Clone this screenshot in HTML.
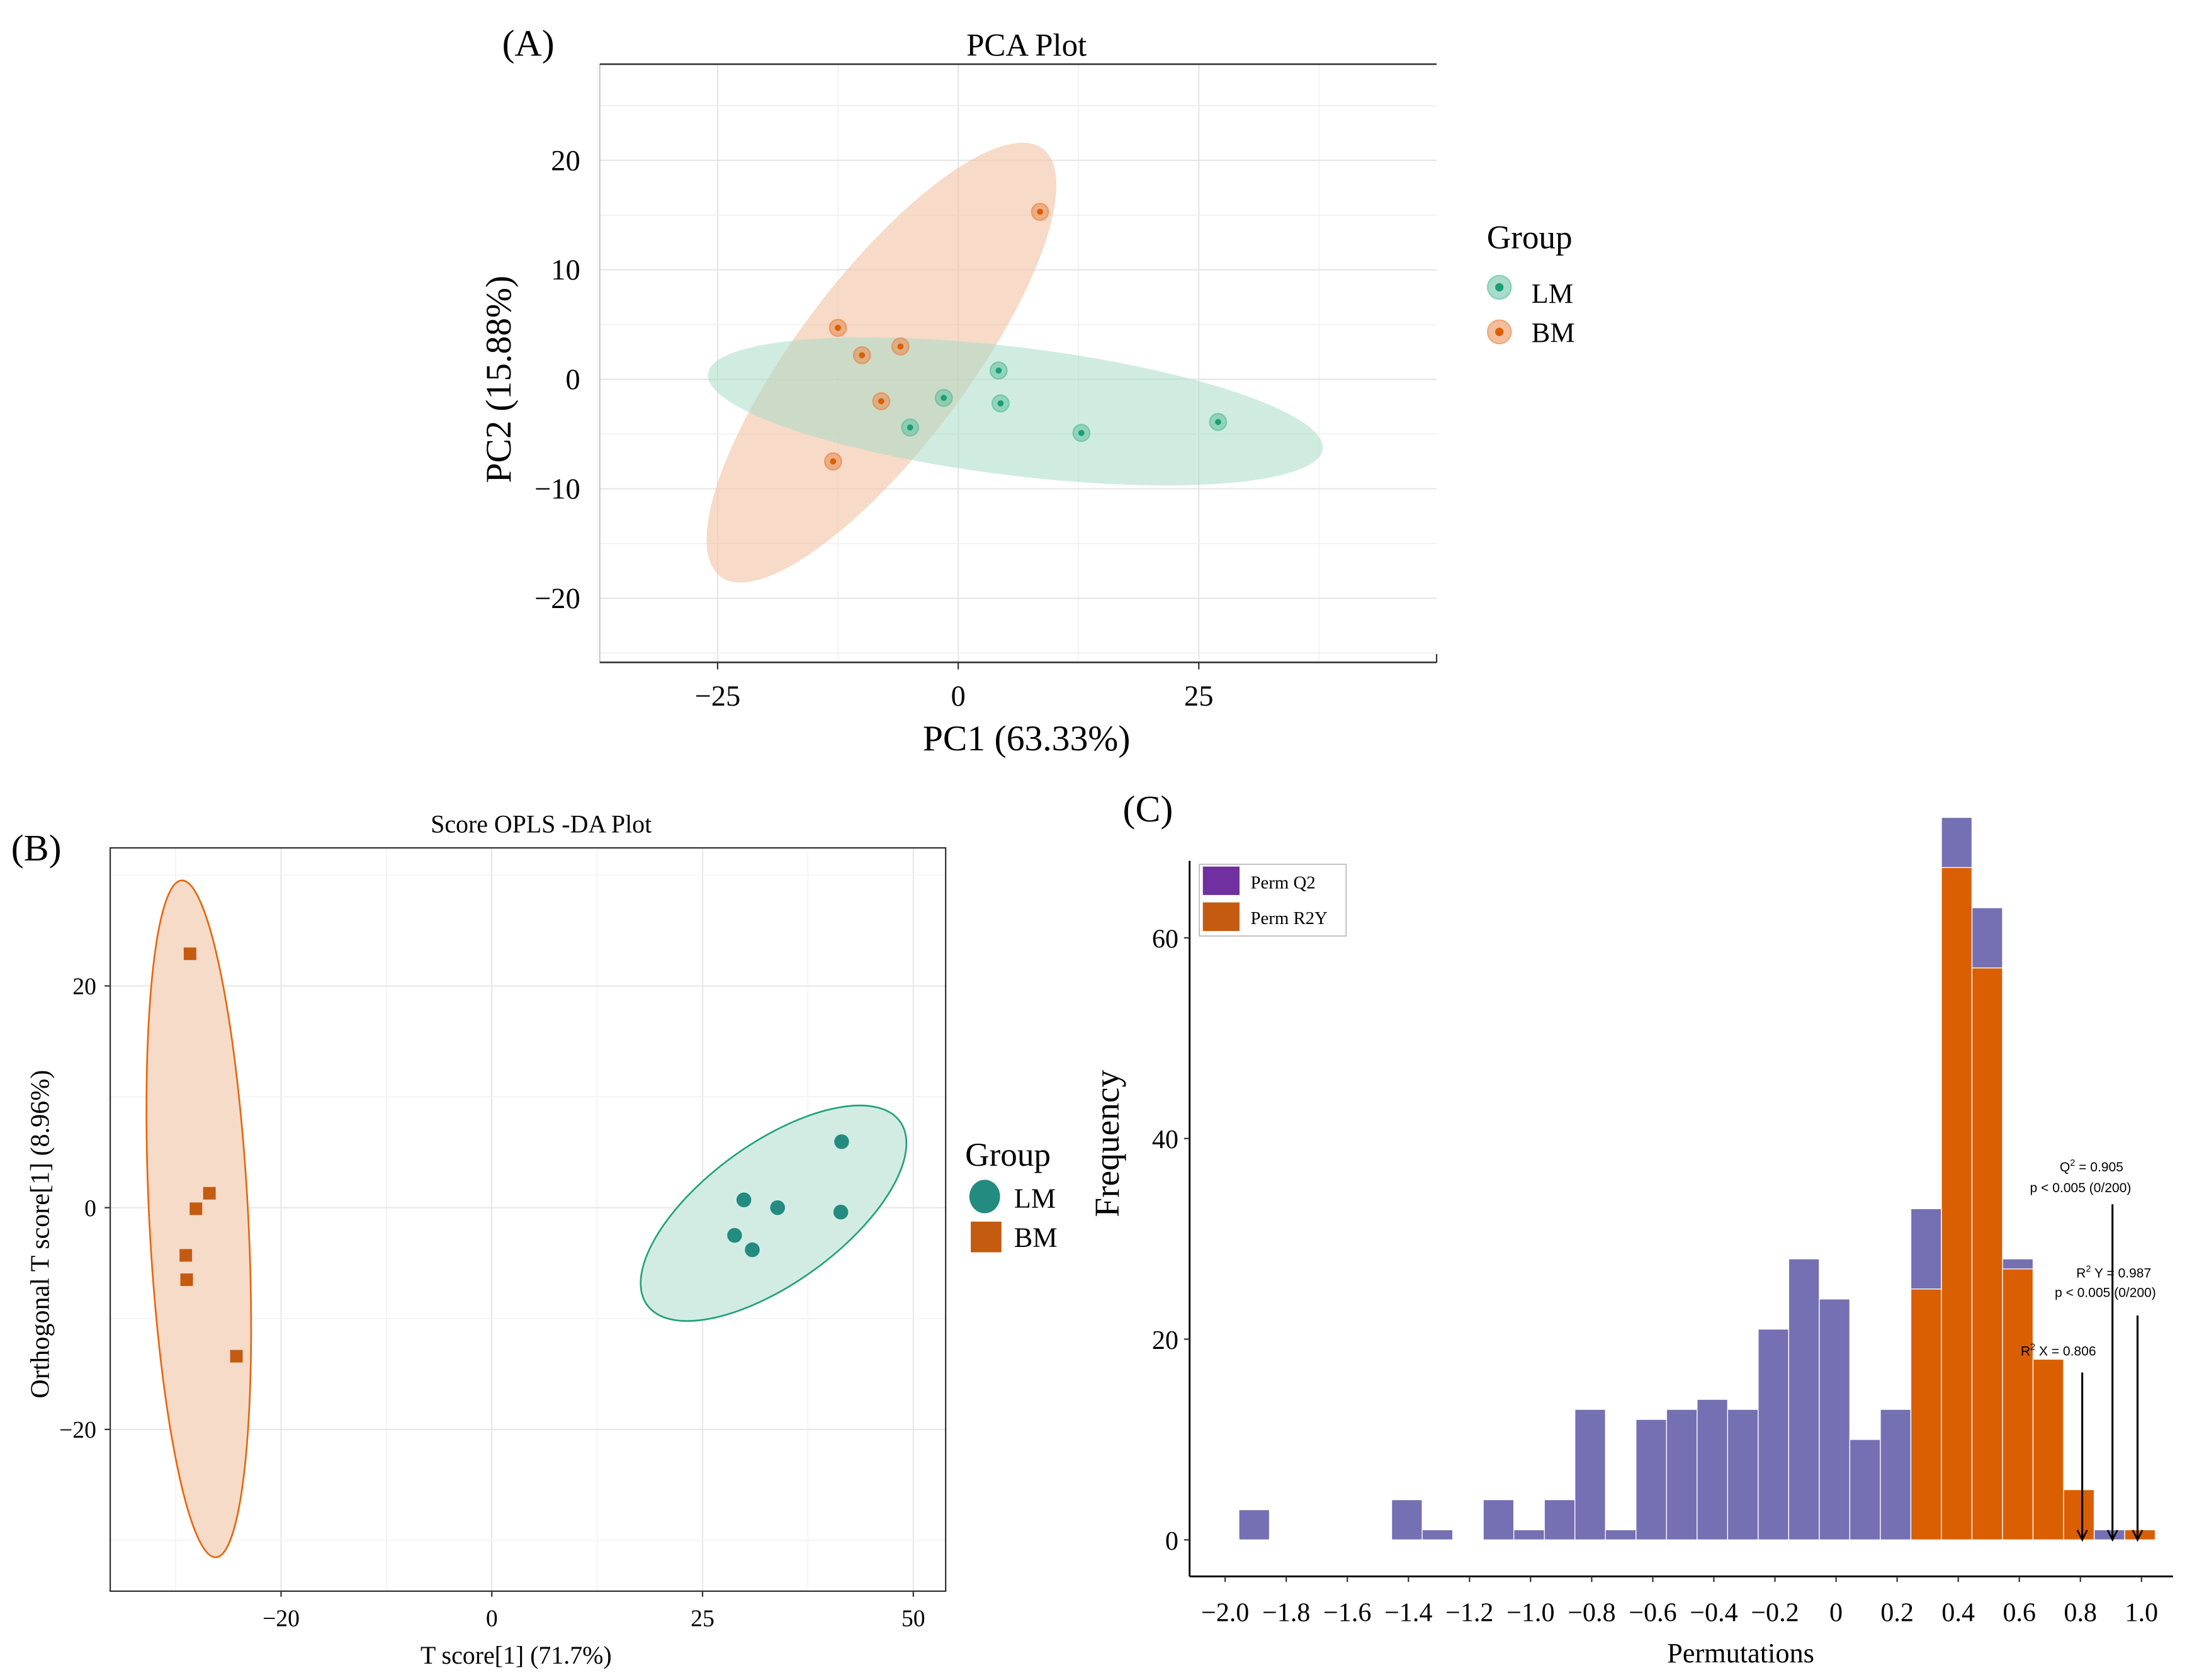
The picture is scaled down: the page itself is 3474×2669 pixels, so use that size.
<!DOCTYPE html>
<html><head><meta charset="utf-8">
<style>
html,body{margin:0;padding:0;background:#fff;}
svg{display:block;}
text{font-family:"Liberation Serif",serif;fill:#000;}
.sans{font-family:"Liberation Sans",sans-serif;}
</style></head>
<body>
<svg id="fig" xmlns="http://www.w3.org/2000/svg" width="3474" height="2669" viewBox="0 0 1568 1204.7">
<rect x="0" y="0" width="1568" height="1204.7" fill="#fff"/>
<g id="pA"></g>
<g id="pB"></g>
<g id="pC"></g>
</svg>
<script>
// ---------- Panel A data ----------
const pcaLM_x = [4.2, 4.4, -1.5, -5, 12.8, 27];
const pcaLM_y = [0.8, -2.2, -1.7, -4.4, -4.9, -3.9];
const pcaBM_x = [8.5, -12.5, -10, -6, -8, -13];
const pcaBM_y = [15.3, 4.7, 2.2, 3.0, -2.0, -7.5];
const pcaXTicks = [-25, 0, 25];
const pcaYTicks = [20, 10, 0, -10, -20];
// ---------- Panel B data ----------
const oplsBM_x = [-35.8, -33.5, -35.1, -36.3, -36.2, -30.3];
const oplsBM_y = [22.9, 1.3, -0.1, -4.3, -6.5, -13.4];
const oplsLM_x = [41.5, 29.9, 33.9, 41.4, 28.8, 30.9];
const oplsLM_y = [5.95, 0.7, 0.0, -0.4, -2.5, -3.8];
const oplsXTickPos = [-25, 0, 25, 50];
const oplsXTickLabels = ["\u221220", "0", "25", "50"];
const oplsYTicks = [20, 0, -20];
// ---------- Panel C data ----------
const binStarts = [-1.955,-1.855,-1.755,-1.655,-1.555,-1.455,-1.355,-1.255,-1.155,-1.055,-0.955,-0.855,-0.755,-0.655,-0.555,-0.455,-0.355,-0.255,-0.155,-0.055,0.045,0.145,0.245,0.345,0.445,0.545,0.645,0.745,0.845,0.945];
const permQ2 = [3,0,0,0,0,4,1,0,4,1,4,13,1,12,13,14,13,21,28,24,10,13,33,72,63,28,0,0,1,0];
const permR2Y = [0,0,0,0,0,0,0,0,0,0,0,0,0,0,0,0,0,0,0,0,0,0,25,67,57,27,18,5,0,1];
const permXTicks = [-2.0,-1.8,-1.6,-1.4,-1.2,-1.0,-0.8,-0.6,-0.4,-0.2,0,0.2,0.4,0.6,0.8,1.0];
const permYTicks = [0,20,40,60];
const arrowValues = [0.806, 0.905, 0.987];

const NS = "http://www.w3.org/2000/svg";
function mk(parent, tag, attrs, txt){
  const e = document.createElementNS(NS, tag);
  for (const k in attrs) e.setAttribute(k, attrs[k]);
  if (txt !== undefined) e.textContent = txt;
  parent.appendChild(e);
  return e;
}
function fmt(v){ const s = Math.abs(v).toFixed(1); return (v < 0 ? "\u2212" : "") + (v===0?"0":s); }

// ================= Panel A =================
(function(){
  const g = document.getElementById('pA');
  const X = v => 687 + v * 6.9;
  const Y = v => 272 - v * 7.85;
  const L = 430, R = 1030, T = 46, B = 475;
  const grid = mk(g,'g',{});
  
  
  [-37.5,-12.5,12.5,37.5].forEach(v=>mk(grid,'line',{x1:X(v),x2:X(v),y1:T,y2:B,stroke:'#f2f2f2','stroke-width':0.8}));
  [-25,0,25].forEach(v=>mk(grid,'line',{x1:X(v),x2:X(v),y1:T,y2:B,stroke:'#e6e6e6','stroke-width':1}));
  [25,15,5,-5,-15,-25].forEach(v=>mk(grid,'line',{x1:L,x2:R,y1:Y(v),y2:Y(v),stroke:'#f0f0f0','stroke-width':0.8}));
  [20,10,0,-10,-20].forEach(v=>mk(grid,'line',{x1:L,x2:R,y1:Y(v),y2:Y(v),stroke:'#e6e6e6','stroke-width':1}));
  mk(g,'line',{x1:L,x2:L,y1:T,y2:B,stroke:'#bbb','stroke-width':0.8});
  mk(g,'line',{x1:R,x2:R,y1:B-6,y2:B,stroke:'#333','stroke-width':1});
  const tb = mk(g,'line',{x1:L,x2:R,y1:T,y2:T,stroke:'#333','stroke-width':1.2});
  
  
  const xa = mk(g,'line',{x1:L,x2:R,y1:B,y2:B,stroke:'#333','stroke-width':1.2});
  
  
  const eBM = mk(g,'ellipse',{cx:632,cy:260,rx:192,ry:61,transform:'rotate(-53 632 260)',fill:'#f2c4a4','fill-opacity':0.62});
  
  
  const eLM = mk(g,'ellipse',{cx:728,cy:295,rx:222,ry:46,transform:'rotate(7 728 295)',fill:'#a9dcc8','fill-opacity':0.55});
  
  
  function pt(x,y,outer,inner,name){
    const c = mk(g,'g',{});
    
    
    mk(c,'circle',{cx:X(x),cy:Y(y),r:6,fill:outer,'fill-opacity':0.55,stroke:outer,'stroke-opacity':0.7,'stroke-width':1});
    mk(c,'circle',{cx:X(x),cy:Y(y),r:2.2,fill:inner});
  }
  pcaBM_x.forEach((x,i)=>pt(x,pcaBM_y[i],'#e8884a','#d95f02','bm-point'));
  pcaLM_x.forEach((x,i)=>pt(x,pcaLM_y[i],'#5cbf9c','#1b9e77','lm-point'));
  pcaXTicks.forEach(v=>{
    mk(g,'line',{x1:X(v),x2:X(v),y1:B,y2:B+5,stroke:'#333','stroke-width':1});
    const t = mk(g,'text',{x:X(v),y:B+31,'font-size':21,'text-anchor':'middle'}, v<0?"\u2212"+Math.abs(v):String(v));
    
    
  });
  pcaYTicks.forEach(v=>{
    const t = mk(g,'text',{x:416,y:Y(v)+7,'font-size':21,'text-anchor':'end'}, v<0?"\u2212"+Math.abs(v):String(v));
    
    
  });
})();
</script>
<script>
(function(){
  const g = document.getElementById('pA');
  function t(x,y,s,txt,name,extra){
    const e = document.createElementNS("http://www.w3.org/2000/svg",'text');
    e.setAttribute('x',x); e.setAttribute('y',y); e.setAttribute('font-size',s);
    if (extra) for (const k in extra) e.setAttribute(k, extra[k]);
    e.textContent = txt;
    
    
    g.appendChild(e);
  }
  t(360,40,27,'(A)','panel-a-label');
  t(736,40,23,'PCA Plot','pca-title',{'text-anchor':'middle'});
  t(736,538,26,'PC1 (63.33%)','pca-x-axis-title',{'text-anchor':'middle'});
  t(366,272,26,'PC2 (15.88%)','pca-y-axis-title',{'text-anchor':'middle',transform:'rotate(-90 366 272)'});
  t(1066,178,24,'Group','pca-legend-title');
  t(1098,217,20,'LM','pca-legend-lm-label');
  t(1098,245,20,'BM','pca-legend-bm-label');
  const NS="http://www.w3.org/2000/svg";
  [[206,'#5cbf9c','#1b9e77','pca-legend-lm-key'],[238,'#e8884a','#d95f02','pca-legend-bm-key']].forEach(a=>{
    const c = document.createElementNS(NS,'g');
    
    
    const o = document.createElementNS(NS,'circle');
    o.setAttribute('cx',1075);o.setAttribute('cy',a[0]);o.setAttribute('r',8.5);o.setAttribute('fill',a[1]);o.setAttribute('fill-opacity',0.55);o.setAttribute('stroke',a[1]);o.setAttribute('stroke-opacity',0.6);
    const i = document.createElementNS(NS,'circle');
    i.setAttribute('cx',1075);i.setAttribute('cy',a[0]);i.setAttribute('r',3);i.setAttribute('fill',a[2]);
    c.appendChild(o);c.appendChild(i);g.appendChild(c);
  });
})();

// ================= Panel B =================
(function(){
  const g = document.getElementById('pB');
  const X = v => 352.6 + v * 6.044;
  const Y = v => 866 - v * 7.95;
  const L = 79, R = 678, T = 608, B = 1141;
  [-37.5,-12.5,12.5,37.5].forEach(v=>mk(g,'line',{x1:X(v),x2:X(v),y1:T,y2:B,stroke:'#f3f3f3','stroke-width':0.8}));
  oplsXTickPos.forEach(v=>mk(g,'line',{x1:X(v),x2:X(v),y1:T,y2:B,stroke:'#e8e8e8','stroke-width':1}));
  [30,10,-10,-30].forEach(v=>mk(g,'line',{x1:L,x2:R,y1:Y(v),y2:Y(v),stroke:'#f3f3f3','stroke-width':0.8}));
  oplsYTicks.forEach(v=>mk(g,'line',{x1:L,x2:R,y1:Y(v),y2:Y(v),stroke:'#e8e8e8','stroke-width':1}));
  const box = mk(g,'rect',{x:L,y:T,width:R-L,height:B-T,fill:'none',stroke:'#333','stroke-width':1});
  
  
  const e1 = mk(g,'ellipse',{cx:142.5,cy:874,rx:35.5,ry:243,transform:'rotate(-2.9 142.5 874)',fill:'#f5dbc8',stroke:'#e8650a','stroke-width':1.2});
  
  
  const e2 = mk(g,'ellipse',{cx:554.6,cy:870,rx:112,ry:50,transform:'rotate(-36 554.6 870)',fill:'#d2ece3',stroke:'#20a27a','stroke-width':1.2});
  
  
  oplsBM_x.forEach((x,i)=>{
    const r = mk(g,'rect',{x:X(x)-4.5,y:Y(oplsBM_y[i])-4.5,width:9,height:9,fill:'#c55a11'});
    
    
  });
  oplsLM_x.forEach((x,i)=>{
    const c = mk(g,'circle',{cx:X(x),cy:Y(oplsLM_y[i]),r:5.3,fill:'#238b80'});
    
    
  });
  oplsXTickPos.forEach((v,i)=>{
    mk(g,'line',{x1:X(v),x2:X(v),y1:B,y2:B+4,stroke:'#333','stroke-width':1});
    const t = mk(g,'text',{x:X(v),y:B+25,'font-size':17,'text-anchor':'middle'}, oplsXTickLabels[i]);
    
    
  });
  oplsYTicks.forEach(v=>{
    mk(g,'line',{x1:L-4,x2:L,y1:Y(v),y2:Y(v),stroke:'#333','stroke-width':1});
    const t = mk(g,'text',{x:L-10,y:Y(v)+6,'font-size':17,'text-anchor':'end'}, v<0?"\u2212"+Math.abs(v):String(v));
    
    
  });
  const a = mk(g,'text',{x:8,y:617,'font-size':27},'(B)');
  
  
  const ti = mk(g,'text',{x:388,y:597,'font-size':18,'text-anchor':'middle'},'Score OPLS -DA Plot');
  
  
  const xt = mk(g,'text',{x:370,y:1193,'font-size':18,'text-anchor':'middle'},'T score[1] (71.7%)');
  
  
  const yt = mk(g,'text',{x:35,y:885,'font-size':19,'text-anchor':'middle',transform:'rotate(-90 35 885)'},'Orthogonal T score[1] (8.96%)');
  
  
  const lg = mk(g,'text',{x:692,y:836,'font-size':24},'Group');
  
  
  const lk = mk(g,'ellipse',{cx:706,cy:858,rx:11,ry:12,fill:'#238b80'});
  
  
  const bk = mk(g,'rect',{x:696,y:876,width:22,height:22,fill:'#c55a11'});
  
  
  const l1 = mk(g,'text',{x:727,y:866,'font-size':20},'LM');
  
  
  const l2 = mk(g,'text',{x:727,y:894,'font-size':20},'BM');
  
  
})();

// ================= Panel C =================
(function(){
  const g = document.getElementById('pC');
  const X = v => 1316.4 + v * 219;
  const Y = v => 1104.2 - v * 7.195;
  const L = 852.9, B = 1130.4, T = 617.3, R = 1558;
  const bw = 0.1;
  binStarts.forEach((s,i)=>{
    if (permQ2[i] > 0){
      const r = mk(g,'rect',{x:X(s),y:Y(permQ2[i]),width:bw*219,height:permQ2[i]*7.195,fill:'#7570b3',stroke:'#fff','stroke-width':0.6});
      
      
    }
  });
  binStarts.forEach((s,i)=>{
    if (permR2Y[i] > 0){
      const r = mk(g,'rect',{x:X(s),y:Y(permR2Y[i]),width:bw*219,height:permR2Y[i]*7.195,fill:'#d95f02',stroke:'#fff','stroke-width':0.6});
      
      
    }
  });
  const ya = mk(g,'line',{x1:L,x2:L,y1:T,y2:B,stroke:'#000','stroke-width':1.3});
  
  
  const xa = mk(g,'line',{x1:L,x2:R,y1:B,y2:B,stroke:'#000','stroke-width':1.3});
  
  
  permXTicks.forEach(v=>{
    mk(g,'line',{x1:X(v),x2:X(v),y1:B,y2:B+4,stroke:'#333','stroke-width':1});
    const t = mk(g,'text',{x:X(v),y:B+32,'font-size':19,'text-anchor':'middle'}, fmt(v));
    
    
  });
  permYTicks.forEach(v=>{
    mk(g,'line',{x1:L-4,x2:L,y1:Y(v),y2:Y(v),stroke:'#333','stroke-width':1});
    const t = mk(g,'text',{x:L-8,y:Y(v)+7,'font-size':19,'text-anchor':'end'}, String(v));
    
    
  });
  const arrowTops = [984.2, 863.6, 943.3];
  arrowValues.forEach((v,i)=>{
    const a = mk(g,'g',{});
    
    
    mk(a,'line',{x1:X(v),x2:X(v),y1:arrowTops[i],y2:Y(0),stroke:'#000','stroke-width':1.4});
    mk(a,'path',{d:`M${X(v)-3.5},${Y(0)-7} L${X(v)},${Y(0)} L${X(v)+3.5},${Y(0)-7}`,fill:'none',stroke:'#000','stroke-width':1.2});
  });
  function ann(x,y,txt,name){
    const t = mk(g,'text',{x:x,y:y,'font-size':9.5,'text-anchor':'middle',class:'sans'});
    t.innerHTML = txt;
    
    
  }
  ann(1499.6,840,'Q<tspan dy="-4" font-size="6.5">2</tspan><tspan dy="4"> = 0.905</tspan>','q2-annotation');
  ann(1491.7,855,'p &lt; 0.005 (0/200)','q2-p-annotation');
  ann(1515.5,916,'R<tspan dy="-4" font-size="6.5">2</tspan><tspan dy="4"> Y = 0.987</tspan>','r2y-annotation');
  ann(1509.5,930,'p &lt; 0.005 (0/200)','r2y-p-annotation');
  ann(1475.8,972,'R<tspan dy="-4" font-size="6.5">2</tspan><tspan dy="4"> X = 0.806</tspan>','r2x-annotation');
  const lg = mk(g,'g',{});
  
  
  mk(lg,'rect',{x:859.9,y:619.8,width:105.2,height:51.4,fill:'#fff',stroke:'#bbb','stroke-width':0.8});
  mk(lg,'rect',{x:862.4,y:621.4,width:26.3,height:20.4,fill:'#7030a0'});
  mk(lg,'rect',{x:862.4,y:647.1,width:26.3,height:20.5,fill:'#c55a11'});
  mk(lg,'text',{x:896.6,y:637,'font-size':13},'Perm Q2');
  mk(lg,'text',{x:896.6,y:662.5,'font-size':13},'Perm R2Y');
  const c = mk(g,'text',{x:805,y:589,'font-size':27},'(C)');
  
  
  const xt = mk(g,'text',{x:1248,y:1192,'font-size':20,'text-anchor':'middle'},'Permutations');
  
  
  const yt = mk(g,'text',{x:802,y:820,'font-size':25,'text-anchor':'middle',transform:'rotate(-90 802 820)'},'Frequency');
  
  
})();
</script>
</body></html>
